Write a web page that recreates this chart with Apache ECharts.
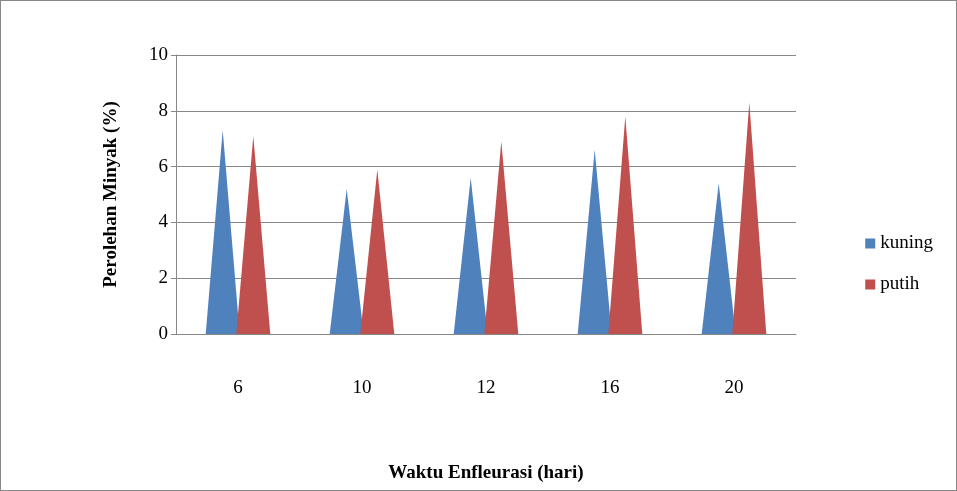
<!DOCTYPE html>
<html><head><meta charset="utf-8">
<script src="https://cdn.jsdelivr.net/npm/echarts@6/dist/echarts.min.js"></script>
<style>html,body{margin:0;padding:0;background:#fff}#c{width:957px;height:491px;box-sizing:border-box;border:1px solid #888}</style>
</head><body><div id="c"></div>
<script>
const categories = ['6', '10', '12', '16', '20'];
const kuning = [7.3, 5.2, 5.6, 6.6, 5.4];
const putih = [7.1, 5.9, 6.9, 7.8, 8.3];
const yTicks = [0, 2, 4, 6, 8, 10];

const chart = echarts.init(document.getElementById('c'));
const font = 'Liberation Serif';
chart.setOption({
  textStyle: { fontFamily: font },
  grid: { left: 175, right: 160, top: 54, bottom: 156 },
  legend: {
    orient: 'vertical', right: 18, top: 228, itemGap: 22,
    itemWidth: 10, itemHeight: 10, icon: 'rect',
    textStyle: { fontFamily: font, fontSize: 19, color: '#000' },
    data: ['kuning', 'putih']
  },
  xAxis: {
    type: 'category', data: categories,
    name: 'Waktu Enfleurasi (hari)', nameLocation: 'middle', nameGap: 130,
    nameTextStyle: { fontFamily: font, fontSize: 19, fontWeight: 'bold', color: '#000' },
    axisLine: { lineStyle: { color: '#888' } }, axisTick: { show: false },
    axisLabel: { fontFamily: font, fontSize: 19, color: '#000', margin: 45 }
  },
  yAxis: {
    type: 'value', min: 0, max: 10, interval: 2,
    name: 'Perolehan Minyak (%)', nameLocation: 'middle', nameGap: 55,
    nameTextStyle: { fontFamily: font, fontSize: 19, fontWeight: 'bold', color: '#000' },
    axisLine: { show: true, lineStyle: { color: '#888' } },
    axisTick: { show: true, lineStyle: { color: '#888' } },
    axisLabel: { fontFamily: font, fontSize: 19, color: '#000', formatter: v => yTicks.includes(v) ? v : '' },
    splitLine: { lineStyle: { color: '#888' } }
  },
  series: [
    { name: 'kuning', type: 'pictorialBar', symbol: 'triangle', barWidth: 34, barGap: '-10%',
      data: kuning, itemStyle: { color: '#4f81bd' } },
    { name: 'putih', type: 'pictorialBar', symbol: 'triangle', barWidth: 34, barGap: '-10%',
      data: putih, itemStyle: { color: '#c0504d' } }
  ]
});
</script></body></html>
